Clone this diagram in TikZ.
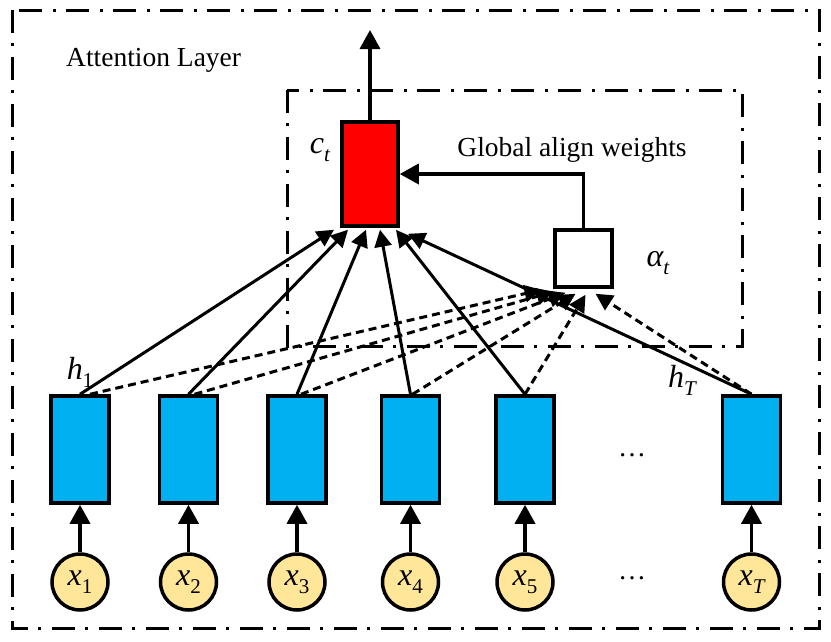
\documentclass[tikz,border=0pt]{standalone}
\usepackage{fontspec}
\setmainfont{Liberation Serif}
\newfontfamily\tnr{Liberation Serif}
\usetikzlibrary{arrows.meta}
\definecolor{hblue}{HTML}{00B0F0}
\definecolor{cred}{HTML}{FF0000}
\definecolor{xyellow}{HTML}{FFE699}
\newcommand\mlbl[2]{{\tnr\fontsize{32}{32}\selectfont\itshape #1}\raisebox{-8pt}{\tnr\fontsize{21}{21}\selectfont #2}}
\tikzset{
  dashdot/.style={line width=3pt, dash pattern=on 23pt off 10pt on 3pt off 11pt},
  hbox/.style={draw, line width=3.5pt, fill=hblue, minimum width=58pt, minimum height=107pt, inner sep=0pt},
  cbox/.style={draw, line width=3.5pt, fill=cred, minimum width=56pt, minimum height=104pt, inner sep=0pt},
  wbox/.style={draw, line width=3.5pt, fill=white, minimum width=57pt, minimum height=57pt, inner sep=0pt},
  xcirc/.style={draw, circle, line width=3.5pt, fill=xyellow, minimum size=56pt, inner sep=0pt},
  uparr/.style={line width=3.5pt, -{Triangle[length=19pt,width=20pt]}},
  conn/.style={line width=3pt, -{Triangle[length=17pt,width=17pt]}},
  dconn/.style={line width=3pt, dash pattern=on 8pt off 5pt, -{Triangle[length=17pt,width=17pt]}},
  txt/.style={font=\tnr\fontsize{27.5}{30}\selectfont, inner sep=0pt},
}
\begin{document}
\begin{tikzpicture}[x=1pt,y=-1pt]
\useasboundingbox (0,0) rectangle (831,641);
% frames
\draw[dashdot] (12,10) rectangle (819,628);
\draw[dashdot] (287,90) rectangle (742,346);
\node[txt, anchor=west] (att) at (66,60) {Attention Layer};
% context and weights
\node[cbox] (c) at (370,174) {};
\node[wbox] (w) at (583.5,258.5) {};
\coordinate (top) at (370,30);
\draw[uparr] (c.north) -- (top);
\draw[uparr] (w.north) |- (c.east);
\node[txt] (gaw) at (572,150) {Global align weights};
\node[inner sep=0pt] (ctl) at (320,150) {\mlbl{c}{\itshape t}};
\node[inner sep=0pt] (atl) at (658,263) {\mlbl{α}{\itshape t}};
% hidden states
\foreach \i/\x in {1/80,2/188.5,3/297,4/410.5,5/525,T/751.5}{
  \node[hbox] (h\i) at (\x,449.5) {};
  \node[xcirc] (x\i) at (\x,582) {};
  \draw[uparr] (x\i.north) -- (h\i.south);
}
\node[inner sep=0pt] at (x1) {\mlbl{x}{1}};
\node[inner sep=0pt] at (x2) {\mlbl{x}{2}};
\node[inner sep=0pt] at (x3) {\mlbl{x}{3}};
\node[inner sep=0pt] at (x4) {\mlbl{x}{4}};
\node[inner sep=0pt] at (x5) {\mlbl{x}{5}};
\node[inner sep=0pt] at (xT) {\mlbl{x}{\itshape T}};
\node[inner sep=0pt] (dots1) at (632,455) {\tnr\fontsize{28}{28}\selectfont …};
\node[inner sep=0pt] (dots2) at (632,578) {\tnr\fontsize{28}{28}\selectfont …};
\node[inner sep=0pt] (h1l) at (80,372) {\mlbl{h}{1}};
\node[inner sep=0pt] (hTl) at (682,380) {\mlbl{h}{\itshape T}};
% solid connectors to context
\draw[conn] (h1.north) -- ([xshift=-36pt,yshift=-2pt]c.south);
\draw[conn] (h2.north) -- ([xshift=-22pt,yshift=-2pt]c.south);
\draw[conn] (h3.north) -- ([xshift=-4pt,yshift=-2pt]c.south);
\draw[conn] (h4.north) -- ([xshift=10pt,yshift=-2pt]c.south);
\draw[conn] (h5.north) -- ([xshift=26pt,yshift=-2pt]c.south);
\draw[conn] (hT.north) -- ([xshift=38pt,yshift=-6pt]c.south);
% dashed connectors to weights
\draw[dconn] ([xshift=10pt]h1.north) -- ([xshift=-42pt,yshift=-1pt]w.south);
\draw[dconn] ([xshift=6pt]h2.north) -- ([xshift=-30pt,yshift=-3pt]w.south);
\draw[dconn] ([xshift=4pt]h3.north) -- ([xshift=-18pt,yshift=-4pt]w.south);
\draw[dconn] ([xshift=2pt]h4.north) -- ([xshift=-8pt,yshift=-5pt]w.south);
\draw[dconn] (h5.north) -- ([xshift=2pt,yshift=-6pt]w.south);
\draw[dconn] (hT.north) -- ([xshift=12pt,yshift=-5pt]w.south);
\end{tikzpicture}
\end{document}
